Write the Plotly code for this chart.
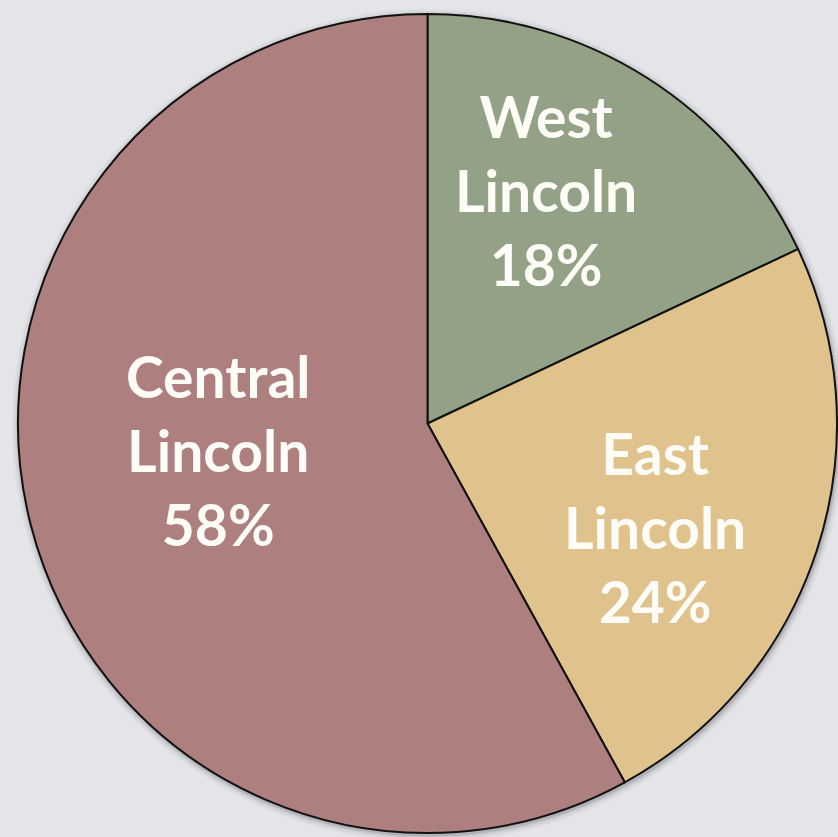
import plotly.graph_objects as go

labels = ["West Lincoln", "East Lincoln", "Central Lincoln"]
values = [18, 24, 58]
colors = ["#93a186", "#e0c28c", "#ae7f7f"]

W, H = 838, 837
CX, CY, R = 427.5, 423.5, 409.5

fig = go.Figure()
fig.add_trace(go.Pie(
    labels=labels, values=values, sort=False, direction="clockwise", rotation=0,
    marker=dict(colors=colors, line=dict(color="#111111", width=2)),
    textinfo="none", hoverinfo="label+percent", showlegend=False,
    domain=dict(x=[(CX - R) / W, (CX + R) / W], y=[1 - (CY + R) / H, 1 - (CY - R) / H]),
))

# soft glow/shadow around the pie
shapes = []
for d, op in [(7, 0.04), (5, 0.06), (3, 0.09), (1.5, 0.14)]:
    rr = R + d
    shapes.append(dict(type="circle", xref="paper", yref="paper",
                       x0=(CX + 1 - rr) / W, x1=(CX + 1 + rr) / W,
                       y0=1 - (CY + 2 + rr) / H, y1=1 - (CY + 2 - rr) / H,
                       fillcolor=f"rgba(60,60,70,{op})", line=dict(width=0), layer="below"))

# label placement (pixel centres)
label_pos = [(546, 190), (655, 527), (218, 450)]
total = sum(values)
annotations = []
for lab, v, (px, py) in zip(labels, values, label_pos):
    words = lab.split(" ")
    txt = "<br>".join(words + [f"{round(100 * v / total)}%"])
    annotations.append(dict(x=px / W, y=1 - py / H, xref="paper", yref="paper",
                            text=txt, showarrow=False, xanchor="center", yanchor="middle",
                            align="center",
                            font=dict(family="Lato", size=57, color="#fdfcf6", weight="bold")))

fig.update_layout(
    width=W, height=H, margin=dict(l=0, r=0, t=0, b=0),
    paper_bgcolor="#e4e5e9", plot_bgcolor="#e4e5e9",
    shapes=shapes, annotations=annotations,
)
fig.write_html("out.html", config={"displayModeBar": False},
               post_script="document.body.style.margin='0';document.body.style.overflow='hidden';")
